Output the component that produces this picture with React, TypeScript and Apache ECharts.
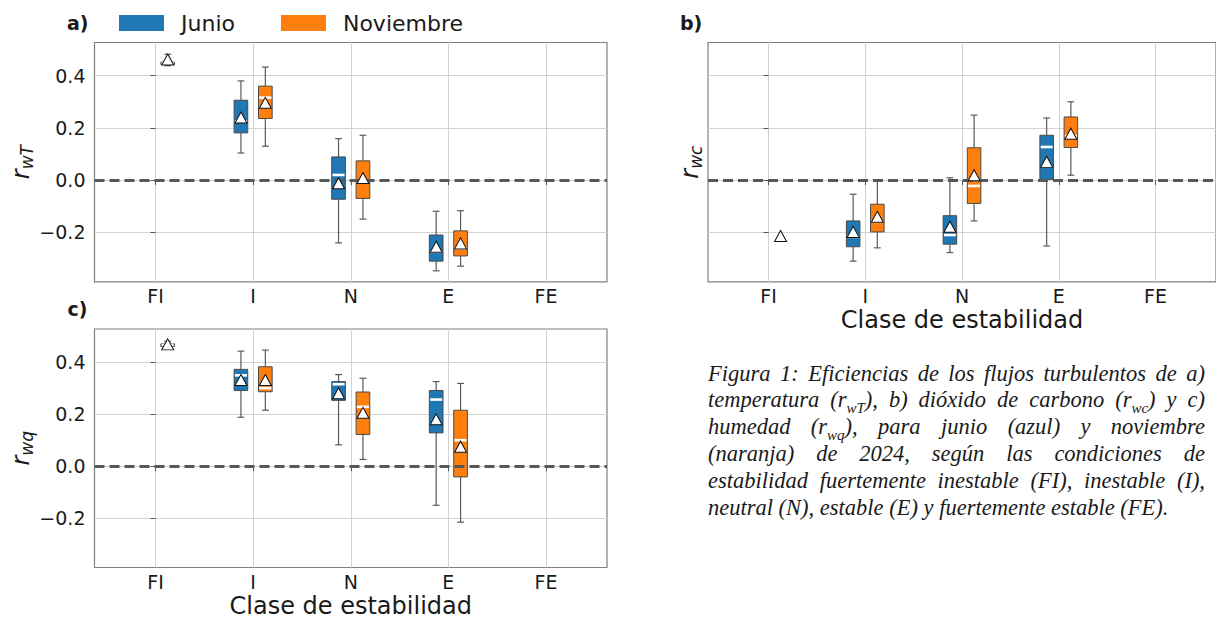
import React, { useEffect, useRef } from 'react';
import * as echarts from 'echarts';

// ---------- data ----------
const categories = ['FI', 'I', 'N', 'E', 'FE'];
const yTickValues = [-0.2, 0, 0.2, 0.4];
const monthNames = ['Junio', 'Noviembre'];

// box rows: [whisker low, Q1, median, Q3, whisker high] per stability class (null = no box)
const rwTJunioBox = [null, [0.104, 0.181, 0.225, 0.306, 0.38], [-0.24, -0.073, 0.02, 0.089, 0.159], [-0.347, -0.31, -0.274, -0.21, -0.119], null];
const rwTJunioMean = [null, 0.24, -0.012, -0.255, null];
const rwTNovBox = [[0.438, 0.443, 0.448, 0.452, 0.482], [0.13, 0.236, 0.316, 0.36, 0.433], [-0.149, -0.07, -0.005, 0.074, 0.172], [-0.329, -0.29, -0.261, -0.194, -0.117], null];
const rwTNovMean = [0.462, 0.296, 0.008, -0.242, null];

const rwcJunioBox = [null, [-0.31, -0.255, -0.217, -0.156, -0.054], [-0.277, -0.245, -0.21, -0.136, 0.009], [-0.252, 0.003, 0.127, 0.172, 0.238], null];
const rwcJunioMean = [null, -0.198, -0.178, 0.07, null];
const rwcNovBox = [null, [-0.259, -0.198, -0.159, -0.092, -0.004], [-0.156, -0.089, -0.022, 0.124, 0.249], [0.019, 0.125, 0.17, 0.242, 0.3], null];
const rwcNovMean = [-0.214, -0.14, 0.019, 0.178, null];

const rwqJunioBox = [null, [0.188, 0.291, 0.349, 0.372, 0.442], [0.082, 0.253, 0.315, 0.325, 0.352], [-0.15, 0.128, 0.256, 0.291, 0.325], null];
const rwqJunioMean = [null, 0.331, 0.28, 0.18, null];
const rwqNovBox = [[0.456, 0.46, 0.466, 0.47, 0.48], [0.215, 0.286, 0.3, 0.382, 0.446], [0.026, 0.122, 0.228, 0.285, 0.338], [-0.215, -0.041, 0.1, 0.215, 0.318], null];
const rwqNovMean = [0.468, 0.331, 0.205, 0.075, null];

const captionLines = [
  'Figura 1: Eficiencias de los flujos turbulentos de a)',
  'temperatura (r_{wT}), b) dióxido de carbono (r_{wc}) y c)',
  'humedad (r_{wq}), para junio (azul) y noviembre',
  '(naranja) de 2024, según las condiciones de',
  'estabilidad fuertemente inestable (FI), inestable (I),',
  'neutral (N), estable (E) y fuertemente estable (FE).',
];

// ---------- style ----------
const BLUE = '#1f77b4';
const ORANGE = '#ff7f0e';
const FONT = '"DejaVu Sans", Verdana, sans-serif';
const SERIF = '"Liberation Serif", "Times New Roman", serif';
const TEXT = '#1a1a1a';
const GRID_COLOR = '#d2d2d2';
const Y_MIN = -0.389;
const Y_MAX = 0.527;
const X_MIN = -0.625;
const X_MAX = 4.625;
const OFFSETS = [-0.125, 0.125];
const BOX_W = 0.14;

const panels = [
  { label: 'a)', sub: 'wT', boxes: [rwTJunioBox, rwTNovBox], means: [rwTJunioMean, rwTNovMean],
    grid: { left: 94.5, top: 42.5, width: 512.5, height: 239.3 }, labels: true, xName: false, lx: 67, ly: 23 },
  { label: 'b)', sub: 'wc', boxes: [rwcJunioBox, rwcNovBox], means: [rwcJunioMean, rwcNovMean],
    grid: { left: 708, top: 42.5, width: 512.5, height: 239.3 }, labels: false, xName: true, lx: 680, ly: 22.5 },
  { label: 'c)', sub: 'wq', boxes: [rwqJunioBox, rwqNovBox], means: [rwqJunioMean, rwqNovMean],
    grid: { left: 94.5, top: 329, width: 512.5, height: 238.5 }, labels: true, xName: true, lx: 67.5, ly: 309 },
];

const fmtTick = (v: number) => (v < -1e-9 ? '\u2212' : '') + Math.abs(v).toFixed(1);

function boxRenderer(color: string) {
  return (params: any, api: any) => {
    const x = api.value(0);
    const lo = api.coord([x, api.value(1)]);
    const q1 = api.coord([x, api.value(2)]);
    const med = api.coord([x, api.value(3)]);
    const q3 = api.coord([x, api.value(4)]);
    const hi = api.coord([x, api.value(5)]);
    const half = api.size([BOX_W, 0])[0] / 2;
    const cap = half / 2;
    const cx = lo[0];
    const wStyle = { stroke: '#5a5a5a', lineWidth: 1.2 };
    return {
      type: 'group',
      children: [
        { type: 'line', shape: { x1: cx, y1: lo[1], x2: cx, y2: q1[1] }, style: wStyle },
        { type: 'line', shape: { x1: cx, y1: q3[1], x2: cx, y2: hi[1] }, style: wStyle },
        { type: 'line', shape: { x1: cx - cap, y1: lo[1], x2: cx + cap, y2: lo[1] }, style: wStyle },
        { type: 'line', shape: { x1: cx - cap, y1: hi[1], x2: cx + cap, y2: hi[1] }, style: wStyle },
        { type: 'rect', shape: { x: cx - half, y: q3[1], width: half * 2, height: q1[1] - q3[1] },
          style: { fill: color, stroke: '#4a4a4a', lineWidth: 1 } },
        { type: 'line', shape: { x1: cx - half + 0.8, y1: med[1], x2: cx + half - 0.8, y2: med[1] },
          style: { stroke: '#ffffff', lineWidth: 2.6 } },
      ],
    };
  };
}

function parseWord(w: string) {
  return w.split(/(_\{[^}]*\})/).filter(Boolean).map((p) =>
    p.startsWith('_{') ? { text: p.slice(2, -1), sub: true } : { text: p, sub: false });
}

function buildCaption() {
  const size = 22.5;
  const subSize = 15;
  const left = 708;
  const right = 1205;
  const top = 373;
  const lh = 26.8;
  const ctx = document.createElement('canvas').getContext('2d')!;
  const measure = (t: string, s: number) => {
    ctx.font = `italic ${s}px ${SERIF}`;
    return ctx.measureText(t).width;
  };
  return captionLines.map((line, li) => {
    const words = line.split(' ').map(parseWord);
    const widths = words.map((segs) => segs.reduce((a, s) => a + measure(s.text, s.sub ? subSize : size), 0));
    const total = widths.reduce((a, b) => a + b, 0);
    const last = li === captionLines.length - 1;
    const gap = last ? measure(' ', size) : Math.max(measure(' ', size), (right - left - total) / (words.length - 1));
    const str = words.map((segs) => segs.map((s) => `{${s.sub ? 's' : 't'}|${s.text}}`).join('')).join('{g| }');
    return {
      type: 'text', x: left, y: top + li * lh, silent: true,
      style: {
        text: str, verticalAlign: 'middle', align: 'left',
        rich: {
          t: { fontFamily: SERIF, fontStyle: 'italic', fontSize: size, lineHeight: 24, fill: TEXT, verticalAlign: 'middle' },
          s: { fontFamily: SERIF, fontStyle: 'italic', fontSize: subSize, lineHeight: 16, padding: [16, 0, 0, 0], fill: TEXT, verticalAlign: 'middle' },
          g: { fontFamily: SERIF, fontStyle: 'italic', fontSize: size, lineHeight: 24, width: gap, verticalAlign: 'middle' },
        },
      },
    };
  });
}

function buildOption() {
  const grids: any[] = [];
  const xAxes: any[] = [];
  const yAxes: any[] = [];
  const series: any[] = [];
  const graphics: any[] = [];

  panels.forEach((p, gi) => {
    grids.push({ ...p.grid, show: true, borderColor: '#808080', borderWidth: 1.2, backgroundColor: 'transparent', containLabel: false });
    xAxes.push({
      type: 'value', gridIndex: gi, min: X_MIN, max: X_MAX,
      axisLine: { show: false },
      axisTick: { show: true, customValues: [0, 1, 2, 3, 4], length: 5, lineStyle: { color: '#555', width: 1 } },
      axisLabel: { customValues: [0, 1, 2, 3, 4], formatter: (v: number) => categories[Math.round(v)] ?? '',
        fontSize: 19, fontFamily: FONT, color: TEXT, margin: 5 },
      splitLine: { show: true, lineStyle: { color: GRID_COLOR, width: 1 } },
      name: p.xName ? 'Clase de estabilidad' : '',
      nameLocation: 'middle', nameGap: 26,
      nameTextStyle: { fontSize: 24, fontFamily: FONT, color: TEXT },
    });
    yAxes.push({
      type: 'value', gridIndex: gi, min: Y_MIN, max: Y_MAX,
      axisLine: { show: false },
      axisTick: { show: true, customValues: yTickValues, length: 5, lineStyle: { color: '#555', width: 1 } },
      axisLabel: { show: p.labels, customValues: yTickValues, formatter: fmtTick,
        fontSize: 19, fontFamily: FONT, color: TEXT, margin: 9 },
      splitLine: { show: true, lineStyle: { color: GRID_COLOR, width: 1 } },
      name: `{r|r}{s|${p.sub}}`,
      nameLocation: 'middle', nameRotate: 90, nameGap: p.labels ? 60 : 6,
      nameTextStyle: {
        rich: {
          r: { fontSize: 24, fontStyle: 'italic', fontFamily: FONT, color: TEXT, lineHeight: 24, verticalAlign: 'middle' },
          s: { fontSize: 17, fontStyle: 'italic', fontFamily: FONT, color: TEXT, lineHeight: 17, padding: [12, 0, 0, 0], verticalAlign: 'middle' },
        },
      },
    });

    [0, 1].forEach((mi) => {
      const boxData: number[][] = [];
      p.boxes[mi].forEach((b, ci) => {
        if (b) boxData.push([ci + OFFSETS[mi], ...b]);
      });
      series.push({
        type: 'custom', name: monthNames[mi], xAxisIndex: gi, yAxisIndex: gi,
        renderItem: boxRenderer(mi === 0 ? BLUE : ORANGE),
        itemStyle: { color: mi === 0 ? BLUE : ORANGE },
        encode: { x: 0, y: [1, 2, 3, 4, 5] },
        data: boxData, z: 2, silent: true,
      });
    });

    series.push({
      type: 'scatter', name: 'cero', xAxisIndex: gi, yAxisIndex: gi, data: [], z: 3, silent: true,
      markLine: {
        silent: true, symbol: 'none', label: { show: false },
        lineStyle: { color: '#585858', width: 3, type: [10, 5] },
        data: [{ yAxis: 0 }], z: 3,
      },
    });

    [0, 1].forEach((mi) => {
      const meanData: number[][] = [];
      p.means[mi].forEach((m, ci) => {
        if (m !== null) meanData.push([ci + OFFSETS[mi], m]);
      });
      series.push({
        type: 'scatter', name: monthNames[mi] + ' media', xAxisIndex: gi, yAxisIndex: gi,
        data: meanData, symbol: 'triangle', symbolSize: [12, 11], z: 4, silent: true,
        itemStyle: { color: '#ffffff', borderColor: '#111', borderWidth: 1, opacity: 1 },
      });
    });

    graphics.push({
      type: 'text', x: p.lx, y: p.ly, silent: true,
      style: { text: p.label, fontFamily: FONT, fontWeight: 'bold', fontSize: 19, fill: TEXT, verticalAlign: 'middle' },
    });
  });

  graphics.push(...buildCaption());

  return {
    animation: false,
    backgroundColor: '#ffffff',
    textStyle: { fontFamily: FONT },
    legend: {
      left: 119, top: 12, padding: 0, itemWidth: 45, itemHeight: 16, itemGap: 46, icon: 'rect',
      textStyle: { fontSize: 22, fontFamily: FONT, color: TEXT, padding: [0, 0, 0, 12] },
      data: [
        { name: 'Junio', itemStyle: { color: BLUE } },
        { name: 'Noviembre', itemStyle: { color: ORANGE } },
      ],
      selectedMode: false,
    },
    grid: grids,
    xAxis: xAxes,
    yAxis: yAxes,
    series,
    graphic: graphics,
  };
}

export default function App() {
  const ref = useRef<HTMLDivElement>(null);
  useEffect(() => {
    const chart = echarts.init(ref.current!, null, { renderer: 'svg' });
    chart.setOption(buildOption() as any);
    return () => chart.dispose();
  }, []);
  return (
    <div
      ref={ref}
      style={{ position: 'fixed', left: 0, top: 0, width: 1216, height: 621, background: '#fff' }}
    />
  );
}
